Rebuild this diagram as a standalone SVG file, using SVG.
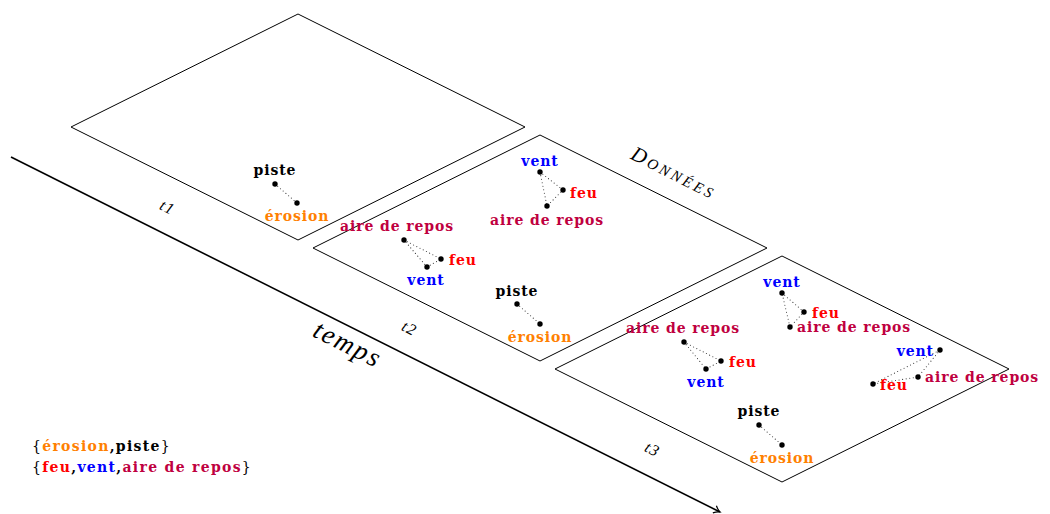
<svg xmlns="http://www.w3.org/2000/svg" width="1050" height="514" viewBox="0 0 1050 514">
<style>
.plane{fill:none;stroke:#000;stroke-width:1}
.lk{fill:none;stroke:#333;stroke-width:1.1;stroke-dasharray:0 3.6;stroke-linecap:round}
.dot{fill:#000}
.lb{font-family:"DejaVu Serif",serif;font-weight:bold;font-size:14px;letter-spacing:0.9px}
.c{text-anchor:middle}
.r{text-anchor:end}
.er{fill:#ff8000}.pi{fill:#000}.fe{fill:#ff0000}.ve{fill:#0000ff}.ai{fill:#bf0040}
.it{font-family:"Liberation Serif",serif;font-style:italic}
</style>
<defs>
<marker id="arr" markerWidth="12" markerHeight="12" refX="7" refY="5" orient="auto" markerUnits="userSpaceOnUse">
<path d="M1,1 Q4,4 7,5 Q4,6 1,9" fill="none" stroke="#000" stroke-width="1.2"/>
</marker>
</defs>
<g id="connectors">
<line x1="11" y1="157" x2="720" y2="512" stroke="#000" stroke-width="1.6" marker-end="url(#arr)"/>
<path class="lk" d="M275,184 L297,203"/>
<path class="lk" d="M540,172 L563,190 L547,206 Z"/>
<path class="lk" d="M404,240 L441,259 L427,267 Z"/>
<path class="lk" d="M517,304 L540,324"/>
<path class="lk" d="M782,293 L804,312 L790,327 Z"/>
<path class="lk" d="M684,342 L721,361 L706,369 Z"/>
<path class="lk" d="M940,350 L918,377 L873,384 Z"/>
<path class="lk" d="M759,425 L782,445"/>
</g>
<g id="plane1">
<polygon class="plane" points="71,127 298,14 525,127 298,240"/>
<text class="lb c pi" x="275" y="175">piste</text>
<circle class="dot" cx="275" cy="184" r="2.7"/>
<circle class="dot" cx="297" cy="203" r="2.7"/>
<text class="lb c er" x="297" y="221">érosion</text>
</g>
<g id="plane2">
<polygon class="plane" points="313,248 540,135 767,248 540,361"/>
<text class="lb c ve" x="540" y="166">vent</text>
<circle class="dot" cx="540" cy="172" r="2.7"/>
<circle class="dot" cx="563" cy="190" r="2.7"/>
<text class="lb fe" x="570" y="198">feu</text>
<circle class="dot" cx="547" cy="206" r="2.7"/>
<text class="lb c ai" x="547" y="225">aire de repos</text>
<text class="lb c ai" x="397" y="231">aire de repos</text>
<circle class="dot" cx="404" cy="240" r="2.7"/>
<circle class="dot" cx="441" cy="259" r="2.7"/>
<text class="lb fe" x="449" y="265">feu</text>
<circle class="dot" cx="427" cy="267" r="2.7"/>
<text class="lb c ve" x="426" y="285">vent</text>
<text class="lb c pi" x="517" y="296">piste</text>
<circle class="dot" cx="517" cy="304" r="2.7"/>
<circle class="dot" cx="540" cy="324" r="2.7"/>
<text class="lb c er" x="540" y="342">érosion</text>
</g>
<g id="plane3">
<polygon class="plane" points="555,369 782,256 1009,369 782,482"/>
<text class="lb c ve" x="782" y="287">vent</text>
<circle class="dot" cx="782" cy="293" r="2.7"/>
<circle class="dot" cx="804" cy="312" r="2.7"/>
<text class="lb fe" x="812" y="318">feu</text>
<circle class="dot" cx="790" cy="327" r="2.7"/>
<text class="lb ai" x="797" y="332">aire de repos</text>
<text class="lb c ai" x="683" y="333">aire de repos</text>
<circle class="dot" cx="684" cy="342" r="2.7"/>
<circle class="dot" cx="721" cy="361" r="2.7"/>
<text class="lb fe" x="729" y="367">feu</text>
<circle class="dot" cx="706" cy="369" r="2.7"/>
<text class="lb c ve" x="706" y="387">vent</text>
<text class="lb r ve" x="934" y="356">vent</text>
<circle class="dot" cx="940" cy="350" r="2.7"/>
<circle class="dot" cx="918" cy="377" r="2.7"/>
<text class="lb ai" x="925" y="382">aire de repos</text>
<circle class="dot" cx="873" cy="384" r="2.7"/>
<text class="lb fe" x="880" y="390">feu</text>
<text class="lb c pi" x="759" y="416">piste</text>
<circle class="dot" cx="759" cy="425" r="2.7"/>
<circle class="dot" cx="782" cy="445" r="2.7"/>
<text class="lb c er" x="782" y="463">érosion</text>
</g>
<g id="labels">
<text class="it" font-size="16" letter-spacing="1" text-anchor="middle" transform="translate(165,212) rotate(26.6)">t1</text>
<text class="it" font-size="16" letter-spacing="1" text-anchor="middle" transform="translate(407,333) rotate(26.6)">t2</text>
<text class="it" font-size="16" letter-spacing="1" text-anchor="middle" transform="translate(650,454) rotate(26.6)">t3</text>
<text class="it" font-size="27" letter-spacing="2" text-anchor="middle" transform="translate(344,352) rotate(26.6)">temps</text>
<text class="it" font-size="21" letter-spacing="3" text-anchor="middle" font-variant="small-caps" transform="translate(671,179) rotate(26.6)">Données</text>
</g>
<g id="legend">
<text x="32" y="451" font-family="DejaVu Serif,serif" font-size="14" letter-spacing="1.3"><tspan>{</tspan><tspan class="er" font-weight="bold">érosion</tspan><tspan font-weight="bold">,piste</tspan><tspan>}</tspan></text>
<text x="32" y="472" font-family="DejaVu Serif,serif" font-size="14" letter-spacing="1.3"><tspan>{</tspan><tspan class="fe" font-weight="bold">feu</tspan><tspan font-weight="bold">,</tspan><tspan class="ve" font-weight="bold">vent</tspan><tspan font-weight="bold">,</tspan><tspan class="ai" font-weight="bold">aire de repos</tspan><tspan>}</tspan></text>
</g>
</svg>
